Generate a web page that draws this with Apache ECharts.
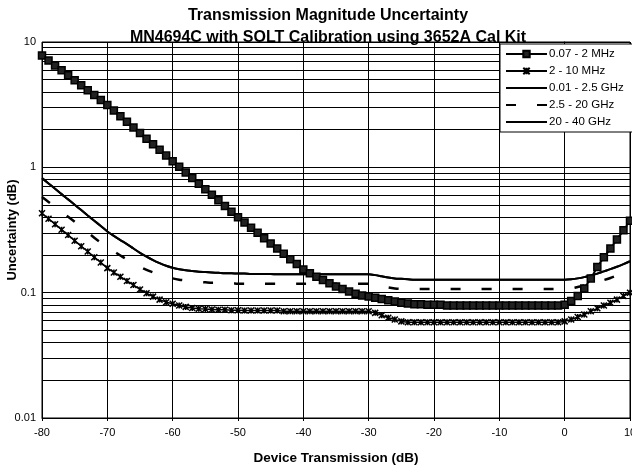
<!DOCTYPE html>
<html>
<head>
<meta charset="utf-8">
<script src="https://cdn.jsdelivr.net/npm/echarts@6/dist/echarts.min.js"></script>
<style>
  html, body { margin: 0; padding: 0; background: #fff; }
  #chart { width: 632px; height: 469px; }
</style>
</head>
<body>
<div id="chart"></div>
<script>
// Device transmission (dB), one point per dB
const transmissionDb = [
  -80, -79, -78, -77, -76, -75, -74, -73, -72, -71,
  -70, -69, -68, -67, -66, -65, -64, -63, -62, -61,
  -60, -59, -58, -57, -56, -55, -54, -53, -52, -51,
  -50, -49, -48, -47, -46, -45, -44, -43, -42, -41,
  -40, -39, -38, -37, -36, -35, -34, -33, -32, -31,
  -30, -29, -28, -27, -26, -25, -24, -23, -22, -21,
  -20, -19, -18, -17, -16, -15, -14, -13, -12, -11,
  -10, -9, -8, -7, -6, -5, -4, -3, -2, -1,
  0, 1, 2, 3, 4, 5, 6, 7, 8, 9, 10
];

// Uncertainty (dB) for each frequency band
const band007to2MHz = [
  7.80, 7.12, 6.50, 5.94, 5.42, 4.95, 4.52, 4.13, 3.78, 3.45,
  3.15, 2.84, 2.56, 2.31, 2.08, 1.88, 1.69, 1.53, 1.38, 1.24,
  1.12, 1.01, 0.911, 0.822, 0.741, 0.669, 0.604, 0.545, 0.491, 0.443,
  0.400, 0.363, 0.330, 0.300, 0.272, 0.247, 0.225, 0.204, 0.185, 0.169,
  0.153, 0.143, 0.134, 0.126, 0.119, 0.112, 0.107, 0.102, 0.098, 0.095,
  0.093, 0.091, 0.089, 0.087, 0.085, 0.083, 0.082, 0.081, 0.081, 0.080,
  0.080, 0.080, 0.079, 0.079, 0.079, 0.079, 0.079, 0.079, 0.079, 0.079,
  0.079, 0.079, 0.079, 0.079, 0.079, 0.079, 0.079, 0.079, 0.079, 0.079,
  0.080, 0.086, 0.094, 0.108, 0.130, 0.160, 0.192, 0.225, 0.265, 0.315, 0.375
];

const band2to10MHz = [
  0.430, 0.389, 0.352, 0.318, 0.288, 0.260, 0.235, 0.213, 0.192, 0.174,
  0.157, 0.145, 0.134, 0.124, 0.115, 0.106, 0.099, 0.093, 0.088, 0.084,
  0.0815, 0.079, 0.077, 0.0755, 0.0745, 0.074, 0.0735, 0.073, 0.073, 0.0725,
  0.0725, 0.072, 0.072, 0.072, 0.072, 0.072, 0.072, 0.071, 0.071, 0.071,
  0.071, 0.071, 0.071, 0.071, 0.071, 0.071, 0.071, 0.071, 0.071, 0.071,
  0.071, 0.069, 0.066, 0.063, 0.061, 0.059, 0.058, 0.058, 0.058, 0.058,
  0.058, 0.058, 0.058, 0.058, 0.058, 0.058, 0.058, 0.058, 0.058, 0.058,
  0.058, 0.058, 0.058, 0.058, 0.058, 0.058, 0.058, 0.058, 0.058, 0.058,
  0.059, 0.061, 0.064, 0.067, 0.071, 0.075, 0.079, 0.083, 0.088, 0.094, 0.100
];

const band001to25GHz = [
  0.820, 0.744, 0.675, 0.611, 0.555, 0.503, 0.456, 0.413, 0.375, 0.340,
  0.308, 0.284, 0.263, 0.244, 0.225, 0.208, 0.194, 0.182, 0.172, 0.164,
  0.158, 0.154, 0.151, 0.149, 0.147, 0.146, 0.145, 0.144, 0.143, 0.143,
  0.142, 0.142, 0.141, 0.141, 0.141, 0.141, 0.140, 0.140, 0.140, 0.140,
  0.140, 0.140, 0.140, 0.140, 0.140, 0.140, 0.140, 0.140, 0.140, 0.140,
  0.140, 0.138, 0.135, 0.132, 0.130, 0.129, 0.128, 0.127, 0.127, 0.127,
  0.127, 0.127, 0.127, 0.127, 0.127, 0.127, 0.127, 0.127, 0.127, 0.127,
  0.127, 0.127, 0.127, 0.127, 0.127, 0.127, 0.127, 0.127, 0.127, 0.127,
  0.127, 0.128, 0.130, 0.133, 0.137, 0.142, 0.148, 0.154, 0.161, 0.169, 0.178
];

const band25to20GHz = [
  0.580, 0.530, 0.484, 0.442, 0.403, 0.368, 0.336, 0.303, 0.274, 0.251,
  0.231, 0.214, 0.198, 0.184, 0.172, 0.161, 0.152, 0.145, 0.139, 0.134,
  0.130, 0.127, 0.125, 0.123, 0.122, 0.121, 0.120, 0.120, 0.119, 0.119,
  0.118, 0.118, 0.118, 0.118, 0.118, 0.118, 0.118, 0.118, 0.118, 0.118,
  0.118, 0.118, 0.118, 0.118, 0.118, 0.118, 0.118, 0.118, 0.118, 0.118,
  0.118, 0.116, 0.113, 0.110, 0.108, 0.107, 0.107, 0.107, 0.107, 0.107,
  0.107, 0.107, 0.107, 0.107, 0.107, 0.107, 0.107, 0.107, 0.107, 0.107,
  0.107, 0.107, 0.107, 0.107, 0.107, 0.107, 0.107, 0.107, 0.107, 0.107,
  0.107, 0.108, 0.111, 0.114, 0.118, 0.122, 0.126, 0.131, 0.137, 0.143, 0.150
];

const band20to40GHz = [
  0.820, 0.744, 0.675, 0.611, 0.555, 0.503, 0.456, 0.413, 0.375, 0.340,
  0.308, 0.284, 0.263, 0.244, 0.225, 0.208, 0.194, 0.182, 0.172, 0.164,
  0.158, 0.154, 0.151, 0.149, 0.147, 0.146, 0.145, 0.144, 0.143, 0.143,
  0.142, 0.142, 0.141, 0.141, 0.141, 0.141, 0.140, 0.140, 0.140, 0.140,
  0.140, 0.140, 0.140, 0.140, 0.140, 0.140, 0.140, 0.140, 0.140, 0.140,
  0.140, 0.138, 0.135, 0.132, 0.130, 0.129, 0.128, 0.127, 0.127, 0.127,
  0.127, 0.127, 0.127, 0.127, 0.127, 0.127, 0.127, 0.127, 0.127, 0.127,
  0.127, 0.127, 0.127, 0.127, 0.127, 0.127, 0.127, 0.127, 0.127, 0.127,
  0.127, 0.128, 0.130, 0.133, 0.137, 0.142, 0.148, 0.154, 0.161, 0.169, 0.178
];

const seriesNames = ['0.07 - 2 MHz', '2 - 10 MHz', '0.01 - 2.5 GHz', '2.5 - 20 GHz', '20 - 40 GHz'];

// Axis ticks and labels
const xTicks = [-80, -70, -60, -50, -40, -30, -20, -10, 0, 10];
const yTickLabels = { '-2': '0.01', '-1': '0.1', '0': '1', '1': '10' };
// Intermediate log grid lines (2..9 of each decade)
const minorGridValues = [
  0.02, 0.03, 0.04, 0.05, 0.06, 0.07, 0.08, 0.09,
  0.2, 0.3, 0.4, 0.5, 0.6, 0.7, 0.8, 0.9,
  2, 3, 4, 5, 6, 7, 8, 9
];

const FONT = '"Liberation Sans", Arial, sans-serif';
const pairs = arr => transmissionDb.map((x, i) => [x, arr[i]]);

// asterisk marker: an x with a vertical stroke
const starPath = 'path://M0 0L10 10M10 0L0 10M5 0L5 10';

const chart = echarts.init(document.getElementById('chart'), null, { renderer: 'canvas' });

// legend entries for the plain-line bands show the line only
const legendData = seriesNames.map((name, i) =>
  i >= 2 ? { name: name, itemStyle: { opacity: 0 } } : { name: name }
);

chart.setOption({
  animation: false,
  backgroundColor: '#fff',
  textStyle: { fontFamily: FONT, color: '#000' },
  title: {
    text: 'Transmission Magnitude Uncertainty\nMN4694C with SOLT Calibration using 3652A Cal Kit',
    left: 328,
    top: 5,
    padding: 0,
    textAlign: 'center',
    textStyle: { fontFamily: FONT, fontSize: 16, fontWeight: 'bold', color: '#000', lineHeight: 22 }
  },
  grid: {
    left: 42, right: 2, top: 42, bottom: 51,
    outerBoundsMode: 'none',
    containLabel: false,
    show: true, borderColor: '#000', borderWidth: 1
  },
  legend: {
    orient: 'vertical',
    left: 500, top: 44,
    padding: [4, 12, 4, 5],
    itemGap: 5,
    itemWidth: 41,
    itemHeight: 8,
    backgroundColor: '#fff',
    borderColor: '#000',
    borderWidth: 1,
    borderRadius: 0,
    data: legendData,
    textStyle: { fontFamily: FONT, fontSize: 11.5, color: '#000', padding: [0, 0, 0, -3] }
  },
  xAxis: {
    type: 'value',
    min: xTicks[0], max: xTicks[xTicks.length - 1], interval: 10,
    name: 'Device Transmission (dB)',
    nameLocation: 'middle',
    nameGap: 33,
    nameMoveOverlap: false,
    nameTextStyle: { fontFamily: FONT, fontSize: 13.5, fontWeight: 'bold', color: '#000' },
    axisLine: { show: true, onZero: false, lineStyle: { color: '#000', width: 1 } },
    axisTick: { show: true, length: 3, lineStyle: { color: '#000' } },
    axisLabel: { fontFamily: FONT, fontSize: 11, color: '#000', margin: 9 },
    splitLine: { show: true, lineStyle: { color: '#000', width: 1 } }
  },
  yAxis: {
    type: 'log',
    logBase: 10,
    min: 0.01, max: 10,
    name: 'Uncertainty (dB)',
    nameLocation: 'middle',
    nameGap: 23,
    nameMoveOverlap: false,
    nameTextStyle: { fontFamily: FONT, fontSize: 13, fontWeight: 'bold', color: '#000' },
    axisLine: { show: true, lineStyle: { color: '#000', width: 1 } },
    axisTick: { show: true, length: 3, lineStyle: { color: '#000' } },
    axisLabel: {
      fontFamily: FONT, fontSize: 11, color: '#000', margin: 6,
      formatter: v => yTickLabels[String(Math.round(Math.log10(v)))] || ''
    },
    splitLine: { show: true, lineStyle: { color: '#000', width: 1 } }
  },
  series: [
    {
      name: 'grid',
      type: 'line',
      data: [],
      z: 1,
      silent: true,
      markLine: {
        silent: true,
        z: 1,
        symbol: ['none', 'none'],
        label: { show: false },
        lineStyle: { color: '#000', width: 1, type: 'solid' },
        emphasis: { disabled: true },
        data: minorGridValues.map(v => ({ yAxis: v }))
      }
    },
    {
      name: seriesNames[0],
      type: 'line',
      data: pairs(band007to2MHz),
      symbol: 'rect',
      symbolSize: 7,
      showAllSymbol: true,
      lineStyle: { color: '#000', width: 2 },
      itemStyle: { color: '#222', borderColor: '#000', borderWidth: 1.5 },
      z: 3
    },
    {
      name: seriesNames[1],
      type: 'line',
      data: pairs(band2to10MHz),
      symbol: starPath,
      symbolSize: 6,
      showAllSymbol: true,
      lineStyle: { color: '#000', width: 1.5 },
      itemStyle: { color: '#000', borderColor: '#000', borderWidth: 1.5 },
      z: 3
    },
    {
      name: seriesNames[2],
      type: 'line',
      data: pairs(band001to25GHz),
      symbol: 'none',
      smooth: 0.3,
      lineStyle: { color: '#000', width: 2 },
      itemStyle: { color: '#000' },
      z: 3
    },
    {
      name: seriesNames[3],
      type: 'line',
      data: pairs(band25to20GHz),
      symbol: 'none',
      smooth: 0.3,
      lineStyle: { color: '#000', width: 2.5, type: [10, 21] },
      itemStyle: { color: '#000' },
      z: 3
    },
    {
      name: seriesNames[4],
      type: 'line',
      data: pairs(band20to40GHz),
      symbol: 'none',
      smooth: 0.3,
      lineStyle: { color: '#000', width: 2 },
      itemStyle: { color: '#000' },
      z: 3
    }
  ]
});
</script>
</body>
</html>
